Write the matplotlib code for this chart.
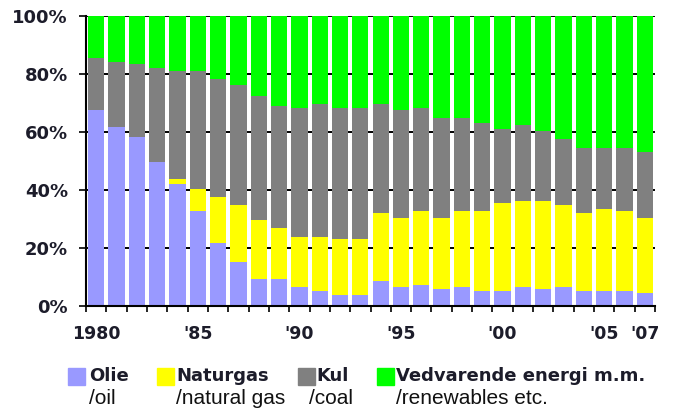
import numpy as np
import matplotlib
matplotlib.use("Agg")
import matplotlib.pyplot as plt
from matplotlib.patches import Rectangle

# shares of energy consumption (%)
years = list(range(1980, 2008))
oil = [67.6, 61.8, 58.3, 49.5, 42.1, 32.8, 21.7, 15.3, 9.4, 9.4,
       6.7, 5.2, 3.8, 3.8, 8.7, 6.7, 7.4, 6.0, 6.7, 5.2,
       5.2, 6.7, 6.0, 6.7, 5.2, 5.2, 5.2, 4.4]
gas = [0.0, 0.0, 0.0, 0.0, 1.7, 7.7, 16.0, 19.5, 20.4, 17.4,
       17.2, 18.7, 19.4, 19.4, 23.3, 23.8, 25.2, 24.5, 25.9, 27.4,
       30.3, 29.5, 30.2, 28.1, 26.8, 28.1, 27.4, 26.1]
coal = [18.0, 22.3, 25.1, 32.5, 37.2, 40.5, 40.7, 41.3, 42.7, 42.2,
        44.4, 45.8, 45.1, 45.1, 37.7, 37.1, 35.7, 34.2, 32.1, 30.6,
        25.5, 26.3, 24.1, 22.7, 22.6, 21.3, 22.0, 22.7]
renew = [14.4, 15.9, 16.6, 18.0, 19.0, 19.0, 21.6, 23.9, 27.5, 31.0,
         31.7, 30.3, 31.7, 31.7, 30.3, 32.4, 31.7, 35.3, 35.3, 36.8,
         39.0, 37.5, 39.7, 42.5, 45.4, 45.4, 45.4, 46.8]

year_labels = {1980: '1980', 1985: "'85", 1990: "'90", 1995: "'95",
               2000: "'00", 2005: "'05", 2007: "'07"}
legend_top = ['Olie', 'Naturgas', 'Kul', 'Vedvarende energi m.m.']
legend_bottom = ['/oil', '/natural gas', '/coal', '/renewables etc.']
colors = ['#9999ff', '#ffff00', '#808080', '#00ff00']

fig = plt.figure(figsize=(6.78, 4.12), dpi=100)
ax = fig.add_axes([86 / 678, 1 - 306 / 412, 569 / 678, 290 / 412])

x = np.arange(len(years))
bottom = np.zeros(len(years))
for vals, c in zip([oil, gas, coal, renew], colors):
    vals = np.array(vals)
    ax.bar(x, vals, bottom=bottom, width=0.8, color=c, zorder=3)
    bottom += vals

ax.set_xlim(-0.5, len(years) - 0.5)
ax.set_ylim(0, 100)

# grid lines behind the bars, only visible in the gaps
for yv in range(20, 101, 20):
    ax.axhline(yv, color='black', lw=1.4, zorder=1)

ax.set_yticks(range(0, 101, 20))
ax.set_yticklabels([f'{v}%' for v in range(0, 101, 20)])
lab_pos = [years.index(y) for y in year_labels]
ax.set_xticks(lab_pos)
ax.set_xticklabels(list(year_labels.values()))
ax.set_xticks(np.arange(-0.5, len(years)), minor=True)
ax.tick_params(axis='x', which='major', length=0, pad=14)
ax.tick_params(axis='x', which='minor', length=4, width=1.2, direction='out')
ax.tick_params(axis='y', length=5, width=1.2, direction='out', pad=8)
for lab in ax.get_xticklabels():
    lab.set_fontsize(12.5)
    lab.set_fontweight('bold')
    lab.set_color('#1c1c2a')
for lab in ax.get_yticklabels():
    lab.set_fontsize(13)
    lab.set_fontweight('bold')
    lab.set_color('#1c1c2a')

for s in ['top', 'right']:
    ax.spines[s].set_visible(False)
for s in ['left', 'bottom']:
    ax.spines[s].set_linewidth(1.5)
    ax.spines[s].set_zorder(4)

# legend drawn by hand: bold first line, plain second line
sq_x = [68, 157, 298, 377]
txt_x = [89, 176, 316, 396]
sub_x = [89, 176, 309, 396]
W, H = 678, 412
for c, sx, tx, bx, t1, t2 in zip(colors, sq_x, txt_x, sub_x, legend_top, legend_bottom):
    fig.patches.append(Rectangle((sx / W, 1 - 385 / H), 17 / W, 17 / H,
                                 transform=fig.transFigure, color=c))
    fig.text(tx / W, 1 - 376 / H, t1, fontsize=13, fontweight='bold',
             color='#1c1c2a', va='center', ha='left')
    fig.text(bx / W, 1 - 398 / H, t2, fontsize=15, family='Liberation Sans',
             color='#111111', va='center', ha='left')

fig.savefig('out.png', dpi=100)
